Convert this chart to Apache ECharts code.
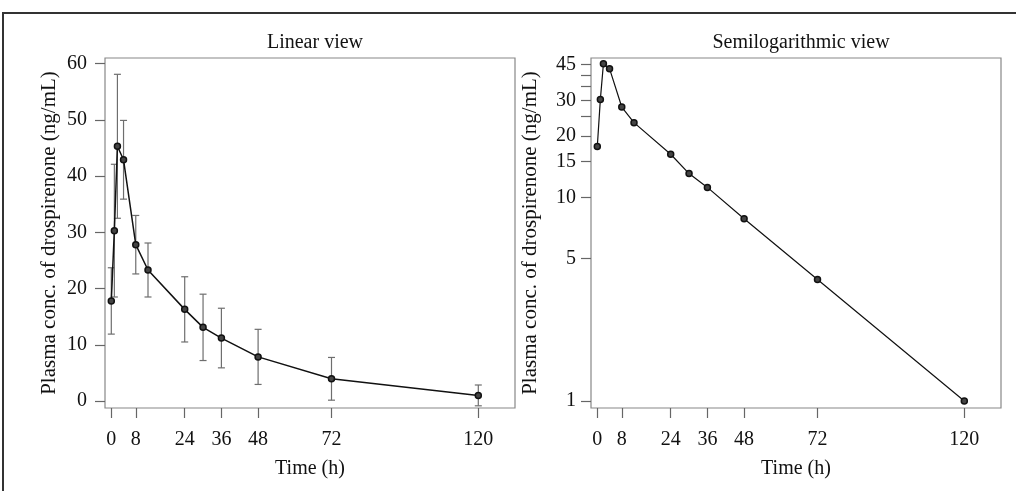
<!DOCTYPE html>
<html>
<head>
<meta charset="utf-8">
<script src="https://cdn.jsdelivr.net/npm/echarts@6/dist/echarts.min.js"></script>
<style>
html,body{margin:0;padding:0;background:#fff;}
#chart{width:1016px;height:491px;}
</style>
</head>
<body>
<div id="chart"></div>
<script>
// Data
var times = [0, 1, 2, 4, 8, 12, 24, 30, 36, 48, 72, 120];
var meanConc = [17.8, 30.3, 45.3, 42.9, 27.8, 23.3, 16.3, 13.1, 11.2, 7.85, 3.95, 1.0];
var sdConc = [5.9, 11.8, 12.8, 7.0, 5.2, 4.8, 5.8, 5.9, 5.3, 4.9, 3.8, 1.85];
var xTickLabels = [0, 8, 24, 36, 48, 72, 120];
var linYTicks = [0, 10, 20, 30, 40, 50, 60];
var logYLabels = [1, 5, 10, 15, 20, 30, 45];
var logYTicks = [1, 5, 10, 15, 20, 25, 30, 35, 40, 45];
var titles = ['Linear view', 'Semilogarithmic view'];
var yName = 'Plasma conc. of drospirenone (ng/mL)';
var xName = 'Time (h)';

var FONT = 'Liberation Serif';
var TXT = '#111';

var points = times.map(function (t, i) { return [t, meanConc[i]]; });
var bars = times.map(function (t, i) { return [t, meanConc[i] - sdConc[i], meanConc[i] + sdConc[i]]; });

function errorBar(params, api) {
  var x = api.value(0);
  var lo = api.coord([x, api.value(1)]);
  var hi = api.coord([x, api.value(2)]);
  var w = 3.5;
  var st = { stroke: '#6e6e6e', lineWidth: 1.2 };
  return {
    type: 'group',
    children: [
      { type: 'line', shape: { x1: hi[0], y1: hi[1], x2: lo[0], y2: lo[1] }, style: st },
      { type: 'line', shape: { x1: hi[0] - w, y1: hi[1], x2: hi[0] + w, y2: hi[1] }, style: st },
      { type: 'line', shape: { x1: lo[0] - w, y1: lo[1], x2: lo[0] + w, y2: lo[1] }, style: st }
    ]
  };
}

function xAxisDef(idx) {
  return {
    type: 'value', gridIndex: idx, min: -2.06, max: 132,
    name: xName, nameLocation: 'middle', nameGap: 51,
    nameTextStyle: { fontFamily: FONT, fontSize: 20, color: TXT },
    axisLine: { show: false, onZero: false },
    splitLine: { show: false },
    axisTick: { show: true, inside: false, length: 10, customValues: xTickLabels, lineStyle: { color: '#666', width: 1.2 } },
    axisLabel: { customValues: xTickLabels, margin: 22, fontFamily: FONT, fontSize: 20, color: TXT }
  };
}

var chart = echarts.init(document.getElementById('chart'));
chart.setOption({
  animation: false,
  backgroundColor: '#fff',
  graphic: [{
    type: 'polyline', shape: { points: [[3, 495], [3, 13], [1020, 13]] },
    style: { stroke: '#333', lineWidth: 2, fill: null }
  }],
  title: [
    { text: titles[0], left: 310, top: 28, textAlign: 'center', textStyle: { fontFamily: FONT, fontSize: 20, fontWeight: 'normal', color: TXT } },
    { text: titles[1], left: 796, top: 28, textAlign: 'center', textStyle: { fontFamily: FONT, fontSize: 20, fontWeight: 'normal', color: TXT } }
  ],
  grid: [
    { left: 105, top: 58, width: 410, height: 350, show: true, borderColor: '#888', borderWidth: 1.2 },
    { left: 591, top: 58, width: 410, height: 350, show: true, borderColor: '#888', borderWidth: 1.2 }
  ],
  xAxis: [xAxisDef(0), xAxisDef(1)],
  yAxis: [
    {
      type: 'value', gridIndex: 0, min: -1.24, max: 61,
      name: yName, nameLocation: 'middle', nameGap: 45,
      nameTextStyle: { fontFamily: FONT, fontSize: 21, color: TXT },
      axisLine: { show: false, onZero: false }, splitLine: { show: false },
      axisTick: { show: true, length: 10, customValues: linYTicks, lineStyle: { color: '#666', width: 1.2 } },
      axisLabel: { customValues: linYTicks, margin: 18, fontFamily: FONT, fontSize: 20, color: TXT }
    },
    {
      type: 'log', logBase: 10, gridIndex: 1, min: 0.924, max: 48.4,
      name: yName, nameLocation: 'middle', nameGap: 50,
      nameTextStyle: { fontFamily: FONT, fontSize: 21, color: TXT },
      axisLine: { show: false, onZero: false }, splitLine: { show: false }, minorTick: { show: false },
      axisTick: { show: true, length: 10, customValues: logYTicks, lineStyle: { color: '#666', width: 1.2 } },
      axisLabel: { customValues: logYLabels, margin: 15, fontFamily: FONT, fontSize: 20, color: TXT }
    }
  ],
  series: [
    {
      type: 'custom', xAxisIndex: 0, yAxisIndex: 0, renderItem: errorBar,
      data: bars, encode: { x: 0, y: [1, 2] }, z: 1, clip: false
    },
    {
      type: 'line', xAxisIndex: 0, yAxisIndex: 0, data: points,
      symbol: 'circle', symbolSize: 6,
      lineStyle: { color: '#111', width: 1.5 },
      itemStyle: { color: '#444', borderColor: '#111', borderWidth: 1.5 }, z: 3
    },
    {
      type: 'line', xAxisIndex: 1, yAxisIndex: 1, data: points,
      symbol: 'circle', symbolSize: 6,
      lineStyle: { color: '#111', width: 1.2 },
      itemStyle: { color: '#444', borderColor: '#111', borderWidth: 1.5 }, z: 3
    }
  ]
});
</script>
</body>
</html>
